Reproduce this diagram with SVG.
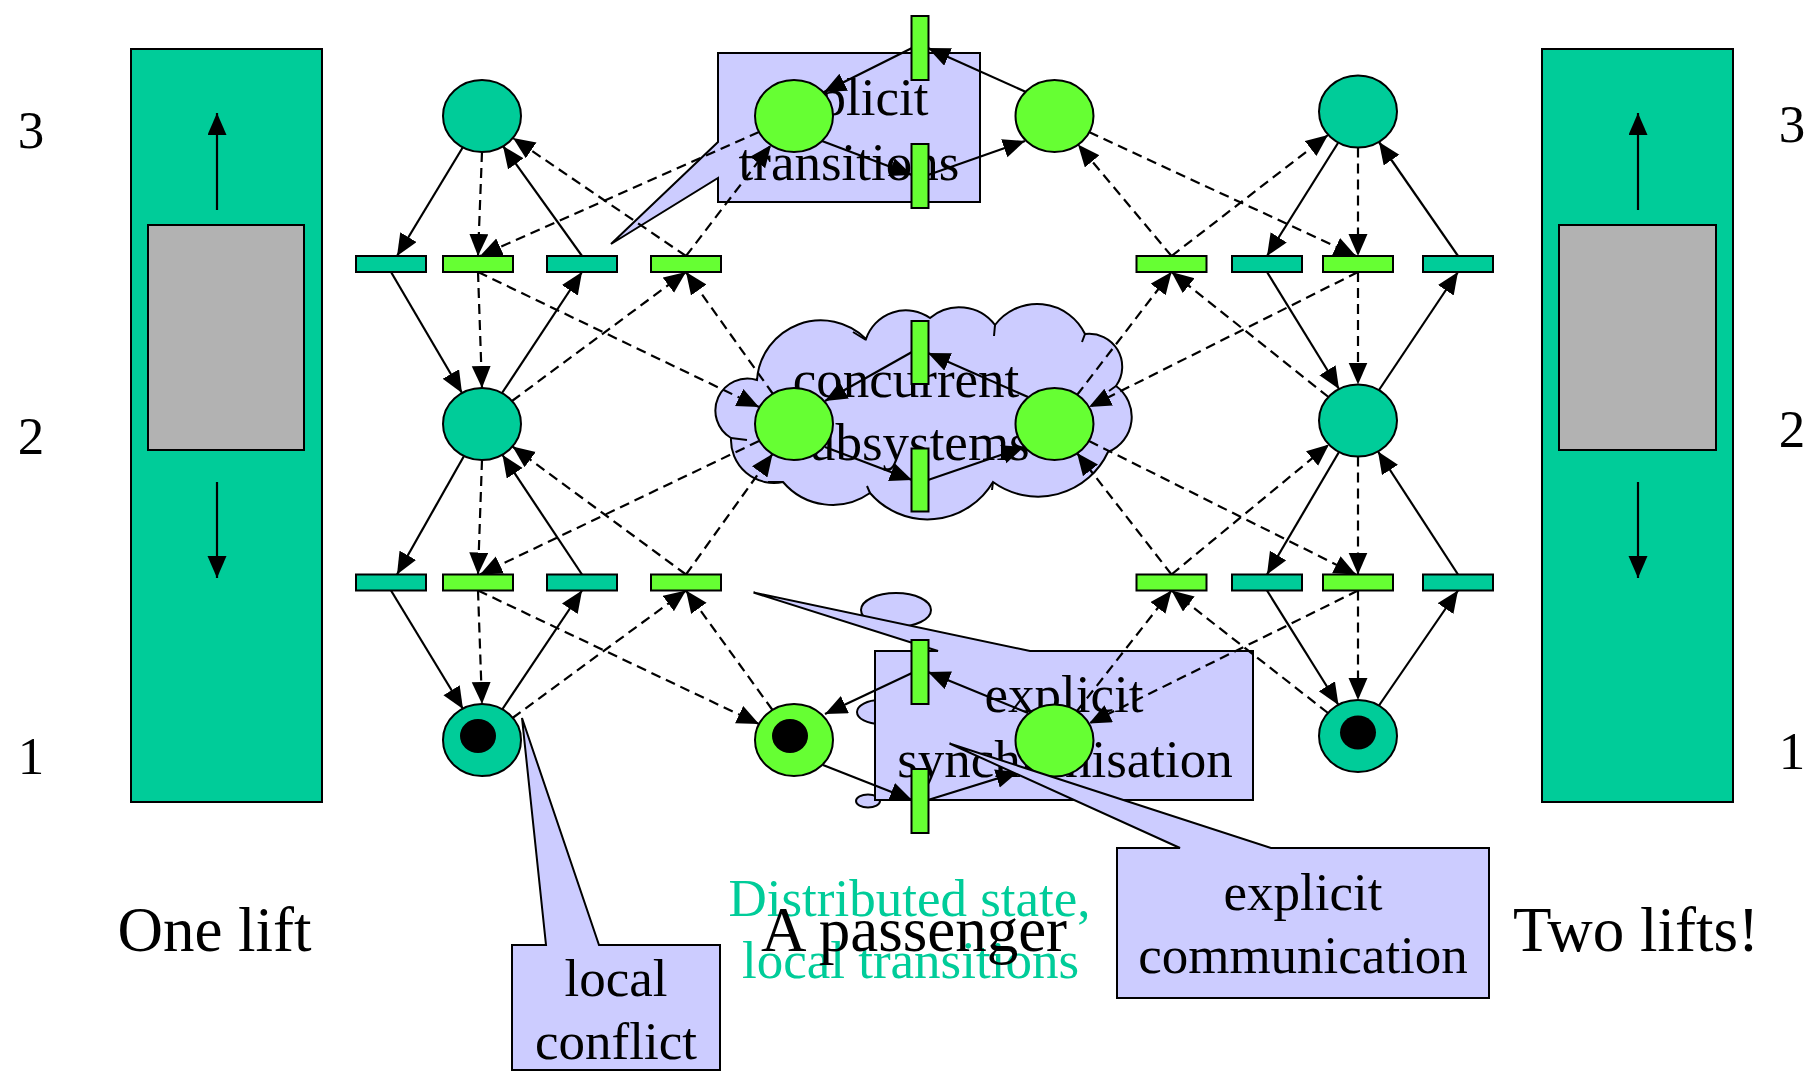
<svg xmlns="http://www.w3.org/2000/svg" width="1819" height="1075" viewBox="0 0 1819 1075">
<defs>
  <marker id="ah" markerUnits="userSpaceOnUse" markerWidth="23" markerHeight="20" refX="22" refY="9.5" orient="auto">
    <path d="M0,0 L22,9.5 L0,19 z" fill="#000"/>
  </marker>
  <style>
    .lift{fill:#00CC99;stroke:#000;stroke-width:2}
    .car{fill:#B2B2B2;stroke:#000;stroke-width:2}
    .lp{fill:#00CC99;stroke:#000;stroke-width:2}
    .pp{fill:#66FF33;stroke:#000;stroke-width:2}
    .tok{fill:#000}
    .call{fill:#CCCCFF;stroke:#000;stroke-width:2}
    .hook{fill:none;stroke:#000;stroke-width:2}
    .arc{fill:none;stroke:#000;stroke-width:2.2;marker-end:url(#ah)}
    .dash{stroke-dasharray:10 6}
    text{font-family:"Liberation Serif","Times New Roman",serif;fill:#000;text-anchor:middle}
    .t53{font-size:53px}
    .t63{font-size:63px}
    .teal{fill:#00CC99}
  </style>
</defs>

<!-- lift shafts -->
<g id="lift-left">
  <rect class="lift" x="131" y="49" width="191" height="753"/>
  <rect class="car" x="148" y="225" width="156" height="225"/>
  <path class="arc" d="M217,210 L217,113"/>
  <path class="arc" d="M217,482 L217,578"/>
</g>
<g id="lift-right">
  <rect class="lift" x="1542" y="49" width="191" height="753"/>
  <rect class="car" x="1559" y="225" width="157" height="225"/>
  <path class="arc" d="M1638,210 L1638,113"/>
  <path class="arc" d="M1638,482 L1638,578"/>
</g>

<!-- floor numbers -->
<g id="floors">
  <text class="t53" x="31" y="148">3</text>
  <text class="t53" x="31" y="454">2</text>
  <text class="t53" x="31" y="774">1</text>
  <text class="t53" x="1792" y="142">3</text>
  <text class="t53" x="1792" y="447">2</text>
  <text class="t53" x="1792" y="769">1</text>
</g>

<!-- annotations drawn beneath the net -->
<g id="thought-bubbles">
  <ellipse class="call" cx="896" cy="610" rx="35" ry="17"/>
  <ellipse class="call" cx="880" cy="712" rx="23" ry="12"/>
  <ellipse class="call" cx="868" cy="801" rx="12" ry="6.5"/>
</g>
<g id="note-concurrent">
  <path class="call" d="M731,438 A32,32 0 0,1 757,380 A64,64 0 0,1 866,339 A42,42 0 0,1 930,318 A45,45 0 0,1 995,325 A53,53 0 0,1 1085,334 A33,33 0 0,1 1116,386 A38,38 0 0,1 1108,452 A77,77 0 0,1 993,482 A76,76 0 0,1 870,493 A65,65 0 0,1 783,482 A43,43 0 0,1 731,438 Z"/>
  <path class="hook" d="M853,332 L866,340 M995,325 L994,336 M1085,334 L1082,342 M1116,386 L1109,391 M993,482 L992,490 M870,493 L867,486 M783,482 L768,482 M731,438 L747,440"/>
  <text class="t53" x="906" y="397">concurrent</text>
  <text class="t53" x="909" y="460">subsystems</text>
</g>
<g id="note-transitions">
  <path class="call" d="M718,53 H980 V202 H718 V178 L611,244 L718,142 Z"/>
  <text class="t53" x="849" y="115">explicit</text>
  <text class="t53" x="849" y="180">transitions</text>
</g>
<g id="note-synchronisation">
  <path class="call" d="M875,651 H938 L753.5,592.5 L1030,651 H1253 V800 H875 Z"/>
  <text class="t53" x="1064" y="712">explicit</text>
  <text class="t53" x="1065" y="777">synchronisation</text>
</g>

<!-- arcs of the net -->
<g id="connectors">
  <!-- left lift, floors 3/2 -->
  <path class="arc" d="M463,147 L397,256"/>
  <path class="arc" d="M391,272 L462,393"/>
  <path class="arc" d="M502,393 L582,272"/>
  <path class="arc" d="M582,256 L503,146"/>
  <path class="arc dash" d="M482,152 L478,256"/>
  <path class="arc dash" d="M759,132 L480,256"/>
  <path class="arc dash" d="M478,272 L482,388"/>
  <path class="arc dash" d="M478,272 L759,407"/>
  <path class="arc dash" d="M512,401 L686,272"/>
  <path class="arc dash" d="M773,394 L686,272"/>
  <path class="arc dash" d="M686,256 L513,138"/>
  <path class="arc dash" d="M686,256 L771,145"/>
  <!-- left lift, floors 2/1 -->
  <path class="arc" d="M464,456 L397,574.5"/>
  <path class="arc" d="M391,590.5 L463,709"/>
  <path class="arc" d="M502.5,709 L582,590.5"/>
  <path class="arc" d="M582,574.5 L502.5,455"/>
  <path class="arc dash" d="M482,460 L478,574.5"/>
  <path class="arc dash" d="M759,441 L480,574.5"/>
  <path class="arc dash" d="M478,590.5 L482,704"/>
  <path class="arc dash" d="M478,590.5 L759,724"/>
  <path class="arc dash" d="M512.5,718 L686,590.5"/>
  <path class="arc dash" d="M772.5,710 L686,590.5"/>
  <path class="arc dash" d="M686,574.5 L512.5,446.5"/>
  <path class="arc dash" d="M686,574.5 L772.5,454"/>
  <!-- right lift, floors 3/2 -->
  <path class="arc" d="M1338,143 L1267,256"/>
  <path class="arc" d="M1267,272 L1339,389"/>
  <path class="arc" d="M1379,390 L1458,272"/>
  <path class="arc" d="M1458,256 L1379,142"/>
  <path class="arc dash" d="M1358,147.5 L1358,256"/>
  <path class="arc dash" d="M1089,132 L1356,256"/>
  <path class="arc dash" d="M1358,272 L1358,384.5"/>
  <path class="arc dash" d="M1358,272 L1089,407"/>
  <path class="arc dash" d="M1328.5,397 L1171.5,272"/>
  <path class="arc dash" d="M1077,395 L1171.5,272"/>
  <path class="arc dash" d="M1171.5,256 L1328,135"/>
  <path class="arc dash" d="M1171.5,256 L1078,144.5"/>
  <!-- right lift, floors 2/1 -->
  <path class="arc" d="M1339,452 L1267,574.5"/>
  <path class="arc" d="M1267,590.5 L1338.5,705"/>
  <path class="arc" d="M1379,705.5 L1458,590.5"/>
  <path class="arc" d="M1458,574.5 L1378,451.5"/>
  <path class="arc dash" d="M1358,456.5 L1358,574.5"/>
  <path class="arc dash" d="M1089,441 L1356,574.5"/>
  <path class="arc dash" d="M1358,590.5 L1358,700"/>
  <path class="arc dash" d="M1358,590.5 L1089,723.5"/>
  <path class="arc dash" d="M1328,713 L1171.5,590.5"/>
  <path class="arc dash" d="M1077,711 L1171.5,590.5"/>
  <path class="arc dash" d="M1171.5,574.5 L1329,444.5"/>
  <path class="arc dash" d="M1171.5,574.5 L1077,453"/>
  <!-- passenger moving between the two lifts -->
  <path class="arc" d="M1026,92 L928,48"/>
  <path class="arc" d="M912,48 L824,92"/>
  <path class="arc" d="M822,141 L912,175"/>
  <path class="arc" d="M928,175 L1025,141"/>
  <path class="arc" d="M1028,397 L928,353"/>
  <path class="arc" d="M912,352 L825,401"/>
  <path class="arc" d="M825,447 L912,480"/>
  <path class="arc" d="M928,480 L1024,447"/>
  <path class="arc" d="M1028,713 L928,672"/>
  <path class="arc" d="M912,673 L825,714"/>
  <path class="arc" d="M823,765 L912,800"/>
  <path class="arc" d="M928,800 L1018,772"/>
</g>

<!-- places -->
<g id="p-l3"><ellipse class="lp" cx="482" cy="116" rx="39" ry="36"/></g>
<g id="p-l2"><ellipse class="lp" cx="482" cy="424" rx="39" ry="36"/></g>
<g id="p-l1"><ellipse class="lp" cx="482" cy="740" rx="39" ry="36"/><ellipse class="tok" cx="478" cy="736" rx="18" ry="17"/></g>
<g id="p-cl3"><ellipse class="pp" cx="794" cy="116" rx="39" ry="36"/></g>
<g id="p-cl2"><ellipse class="pp" cx="794" cy="424" rx="39" ry="36"/></g>
<g id="p-cl1"><ellipse class="pp" cx="794" cy="740" rx="39" ry="36"/><ellipse class="tok" cx="790" cy="736" rx="18" ry="17"/></g>
<g id="p-cr3"><ellipse class="pp" cx="1054.5" cy="116" rx="39" ry="36"/></g>
<g id="p-cr2"><ellipse class="pp" cx="1054.5" cy="424" rx="39" ry="36"/></g>
<g id="p-cr1"><ellipse class="pp" cx="1054.5" cy="740.5" rx="39" ry="36"/></g>
<g id="p-r3"><ellipse class="lp" cx="1358" cy="111.5" rx="39" ry="36"/></g>
<g id="p-r2"><ellipse class="lp" cx="1358" cy="420.5" rx="39" ry="36"/></g>
<g id="p-r1"><ellipse class="lp" cx="1358" cy="736" rx="39" ry="36"/><ellipse class="tok" cx="1358" cy="732.5" rx="18" ry="17"/></g>

<!-- transitions: left lift -->
<g id="t-l-down32"><rect class="lp" x="356" y="256" width="70" height="16"/></g>
<g id="t-l-pdown32"><rect class="pp" x="443" y="256" width="70" height="16"/></g>
<g id="t-l-up23"><rect class="lp" x="547" y="256" width="70" height="16"/></g>
<g id="t-l-pup23"><rect class="pp" x="651" y="256" width="70" height="16"/></g>
<g id="t-l-down21"><rect class="lp" x="356" y="574.5" width="70" height="16"/></g>
<g id="t-l-pdown21"><rect class="pp" x="443" y="574.5" width="70" height="16"/></g>
<g id="t-l-up12"><rect class="lp" x="547" y="574.5" width="70" height="16"/></g>
<g id="t-l-pup12"><rect class="pp" x="651" y="574.5" width="70" height="16"/></g>
<!-- transitions: right lift -->
<g id="t-r-pup23"><rect class="pp" x="1136.5" y="256" width="70" height="16"/></g>
<g id="t-r-down32"><rect class="lp" x="1232" y="256" width="70" height="16"/></g>
<g id="t-r-pdown32"><rect class="pp" x="1323" y="256" width="70" height="16"/></g>
<g id="t-r-up23"><rect class="lp" x="1423" y="256" width="70" height="16"/></g>
<g id="t-r-pup12"><rect class="pp" x="1136.5" y="574.5" width="70" height="16"/></g>
<g id="t-r-down21"><rect class="lp" x="1232" y="574.5" width="70" height="16"/></g>
<g id="t-r-pdown21"><rect class="pp" x="1323" y="574.5" width="70" height="16"/></g>
<g id="t-r-up12"><rect class="lp" x="1423" y="574.5" width="70" height="16"/></g>
<!-- transitions: passenger changing lift -->
<g id="t-x3a"><rect class="pp" x="911.5" y="16" width="17" height="64"/></g>
<g id="t-x3b"><rect class="pp" x="911.5" y="144" width="17" height="64"/></g>
<g id="t-x2a"><rect class="pp" x="911.5" y="321" width="17" height="63"/></g>
<g id="t-x2b"><rect class="pp" x="911.5" y="448.5" width="17" height="63"/></g>
<g id="t-x1a"><rect class="pp" x="911.5" y="640" width="17" height="64"/></g>
<g id="t-x1b"><rect class="pp" x="911.5" y="769" width="17" height="64"/></g>

<!-- annotations drawn above the net -->
<g id="note-conflict">
  <path class="call" d="M512,945 H546 L522,718 L599,945 H720 V1070 H512 Z"/>
  <text class="t53" x="616" y="996">local</text>
  <text class="t53" x="616" y="1059">conflict</text>
</g>
<g id="note-communication">
  <path class="call" d="M1117,848 H1180 L949.5,743.5 L1271,848 H1489 V998 H1117 Z"/>
  <text class="t53" x="1303" y="910">explicit</text>
  <text class="t53" x="1303" y="973">communication</text>
</g>

<!-- captions -->
<g id="captions">
  <text class="t63" x="214.5" y="951">One lift</text>
  <text class="t63" x="1636" y="951">Two lifts!</text>
  <text class="t53 teal" x="909.5" y="916">Distributed state,</text>
  <text class="t53 teal" x="910.5" y="978">local transitions</text>
  <text class="t63" x="914" y="951">A passenger</text>
</g>
</svg>
